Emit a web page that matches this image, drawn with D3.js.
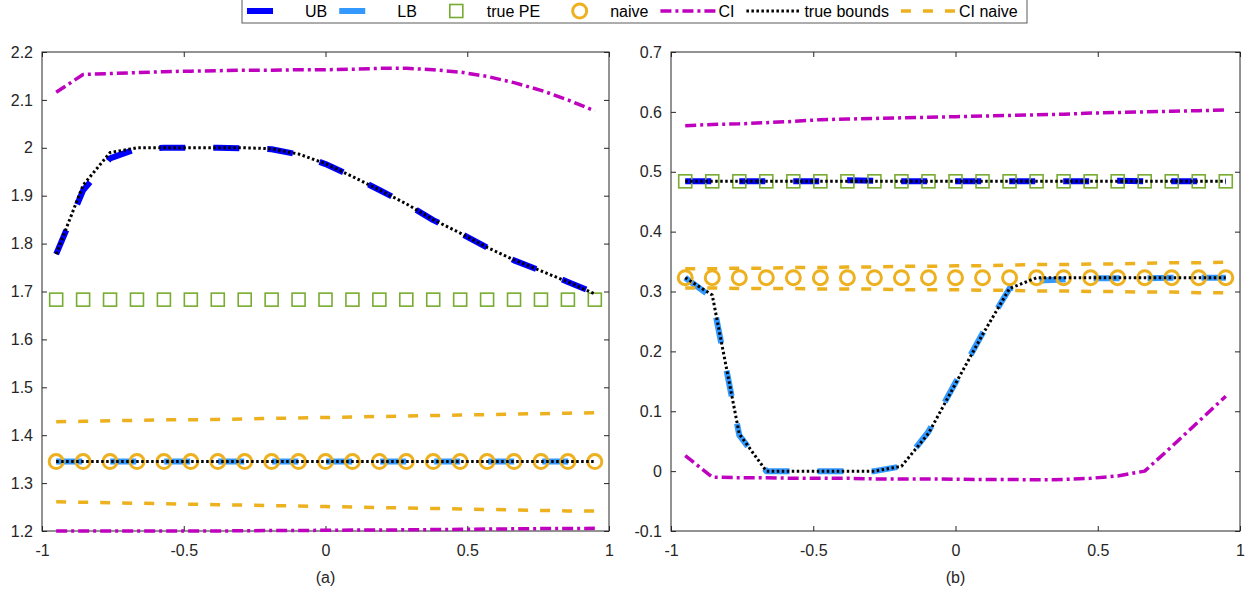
<!DOCTYPE html>
<html><head><meta charset="utf-8">
<script src="https://cdn.jsdelivr.net/npm/d3@7"></script>
<style>
html,body{margin:0;padding:0;background:#fff;}
svg{display:block;font-family:"Liberation Sans",Arial,Helvetica,sans-serif;}
</style></head>
<body><svg id="chart" width="1252" height="595"></svg>
<script>
// ---------- data ----------
const xs = [-0.95,-0.855,-0.76,-0.665,-0.57,-0.475,-0.38,-0.285,-0.19,-0.095,0,0.095,0.19,0.285,0.38,0.475,0.57,0.665,0.76,0.855,0.95];

// panel (a)
const ubA      = [1.778,1.911,1.978,1.998,2.000,2.000,2.000,1.999,1.997,1.986,1.966,1.940,1.912,1.883,1.849,1.822,1.792,1.765,1.743,1.720,1.697];
const lbA      = [1.345,1.345,1.345,1.345,1.345,1.345,1.345,1.345,1.345,1.345,1.345,1.345,1.345,1.345,1.345,1.345,1.345,1.345,1.345,1.345,1.345];
const truePEA  = [1.683,1.683,1.683,1.683,1.683,1.683,1.683,1.683,1.683,1.683,1.683,1.683,1.683,1.683,1.683,1.683,1.683,1.683,1.683,1.683,1.683];
const naiveA   = [1.345,1.345,1.345,1.345,1.345,1.345,1.345,1.345,1.345,1.345,1.345,1.345,1.345,1.345,1.345,1.345,1.345,1.345,1.345,1.345,1.345];
const ciUpA    = [2.116,2.153,2.155,2.157,2.159,2.160,2.161,2.162,2.162,2.163,2.163,2.164,2.166,2.166,2.163,2.158,2.149,2.136,2.120,2.100,2.077];
const ciLoA    = [1.200,1.200,1.200,1.200,1.200,1.200,1.200,1.2005,1.201,1.201,1.2015,1.202,1.202,1.2025,1.203,1.2035,1.204,1.2045,1.205,1.205,1.2055];
const tbUpA    = [1.778,1.922,1.990,2.000,2.000,2.000,2.000,2.000,1.998,1.987,1.967,1.940,1.912,1.883,1.850,1.822,1.792,1.766,1.743,1.720,1.695];
const tbLoA    = [1.345,1.345,1.345,1.345,1.345,1.345,1.345,1.345,1.345,1.345,1.345,1.345,1.345,1.345,1.345,1.345,1.345,1.345,1.345,1.345,1.345];
const ciNvUpA  = [1.428,1.429,1.430,1.431,1.432,1.432,1.433,1.434,1.435,1.436,1.437,1.438,1.439,1.440,1.441,1.442,1.443,1.444,1.445,1.446,1.447];
const ciNvLoA  = [1.261,1.260,1.259,1.258,1.257,1.256,1.255,1.254,1.253,1.252,1.251,1.250,1.249,1.248,1.247,1.246,1.245,1.244,1.243,1.242,1.2415];

// panel (b)
const ubB      = [0.484,0.484,0.484,0.484,0.484,0.484,0.486,0.485,0.484,0.484,0.484,0.484,0.484,0.484,0.484,0.484,0.485,0.484,0.484,0.484,0.484];
const lbB      = [0.323,0.290,0.060,0.000,0.000,0.000,0.000,0.000,0.008,0.066,0.148,0.230,0.305,0.318,0.320,0.322,0.322,0.322,0.323,0.323,0.323];
const truePEB  = [0.484,0.484,0.484,0.484,0.484,0.484,0.484,0.484,0.484,0.484,0.484,0.484,0.484,0.484,0.484,0.484,0.484,0.484,0.484,0.484,0.484];
const naiveB   = [0.323,0.323,0.323,0.323,0.323,0.323,0.323,0.323,0.323,0.323,0.323,0.323,0.323,0.323,0.323,0.323,0.323,0.323,0.323,0.323,0.323];
const ciUpB    = [0.577,0.579,0.580,0.582,0.584,0.587,0.588,0.589,0.590,0.591,0.592,0.593,0.594,0.595,0.596,0.598,0.599,0.600,0.601,0.602,0.603];
const ciLoB    = [0.026,-0.010,-0.011,-0.011,-0.012,-0.012,-0.012,-0.013,-0.013,-0.013,-0.0135,-0.014,-0.014,-0.0145,-0.014,-0.012,-0.008,0.000,0.041,0.083,0.125];
const tbUpB    = [0.484,0.484,0.484,0.484,0.484,0.484,0.484,0.484,0.484,0.484,0.484,0.484,0.484,0.484,0.484,0.484,0.484,0.484,0.484,0.484,0.484];
const tbLoB    = [0.323,0.294,0.062,0.000,0.000,0.000,0.000,0.000,0.008,0.063,0.146,0.228,0.305,0.323,0.323,0.323,0.323,0.323,0.323,0.323,0.323];
const ciNvUpB  = [0.338,0.338,0.339,0.339,0.340,0.340,0.341,0.341,0.342,0.342,0.343,0.343,0.344,0.345,0.345,0.346,0.346,0.347,0.348,0.348,0.349];
const ciNvLoB  = [0.306,0.306,0.305,0.305,0.305,0.304,0.304,0.304,0.303,0.303,0.303,0.302,0.302,0.301,0.301,0.300,0.300,0.299,0.299,0.298,0.298];

// ticks
const xTicks = [-1,-0.5,0,0.5,1];
const xTickLabels = ["-1","-0.5","0","0.5","1"];
const yTicksA = [1.2,1.3,1.4,1.5,1.6,1.7,1.8,1.9,2.0,2.1,2.2];
const yTickLabelsA = ["1.2","1.3","1.4","1.5","1.6","1.7","1.8","1.9","2","2.1","2.2"];
const yTicksB = [-0.1,0,0.1,0.2,0.3,0.4,0.5,0.6,0.7];
const yTickLabelsB = ["-0.1","0","0.1","0.2","0.3","0.4","0.5","0.6","0.7"];
const panelLabels = ["(a)","(b)"];
const legendLabels = ["UB","LB","true PE","naive","CI","true bounds","CI naive"];

// ---------- styles ----------
const ink = "#262626";
const styles = {
  UB:   {stroke:"#0000ff", width:6,   dash:"26,28"},
  LB:   {stroke:"#3399ff", width:6,   dash:"26,28"},
  CI:   {stroke:"#bf00bf", width:3.5, dash:"11,4,3,4"},
  TB:   {stroke:"#000000", width:3,   dash:"2.5,2.5"},
  CIN:  {stroke:"#edb120", width:3.5, dash:"10,12"}
};
const peColor = "#77ac30", naiveColor = "#edb120";

const svg = d3.select("#chart");

const panels = [
  {x0:42, x1:609, yDom:[1.2,2.2], yTicks:yTicksA, yLabels:yTickLabelsA, label:panelLabels[0],
   ub:ubA, lb:lbA, pe:truePEA, nv:naiveA, ciU:ciUpA, ciL:ciLoA, tbU:tbUpA, tbL:tbLoA, cnU:ciNvUpA, cnL:ciNvLoA},
  {x0:671, x1:1240, yDom:[-0.1,0.7], yTicks:yTicksB, yLabels:yTickLabelsB, label:panelLabels[1],
   ub:ubB, lb:lbB, pe:truePEB, nv:naiveB, ciU:ciUpB, ciL:ciLoB, tbU:tbUpB, tbL:tbLoB, cnU:ciNvUpB, cnL:ciNvLoB}
];
const yTop = 52, yBot = 531;

panels.forEach(p => {
  const x = d3.scaleLinear().domain([-1,1]).range([p.x0,p.x1]);
  const y = d3.scaleLinear().domain(p.yDom).range([yBot,yTop]);
  const g = svg.append("g");

  const ax = (gen, tr, labels) => {
    const a = g.append("g").attr("transform", tr).call(gen);
    a.select(".domain").remove();
    a.selectAll("line").attr("stroke", ink);
    a.selectAll("text").attr("fill", ink).style("font-size","16px").style("font-family","'Liberation Sans',Arial,sans-serif");
    if (!labels) a.selectAll("text").remove();
    return a;
  };
  ax(d3.axisBottom(x).tickValues(xTicks).tickFormat((d,i)=>xTickLabels[i]).tickSizeInner(-5).tickSizeOuter(0).tickPadding(14), `translate(0,${yBot})`, true);
  ax(d3.axisTop(x).tickValues(xTicks).tickSizeInner(-5).tickSizeOuter(0), `translate(0,${yTop})`, false);
  ax(d3.axisLeft(y).tickValues(p.yTicks).tickFormat((d,i)=>p.yLabels[i]).tickSizeInner(-5).tickSizeOuter(0).tickPadding(9), `translate(${p.x0},0)`, true);
  ax(d3.axisRight(y).tickValues(p.yTicks).tickSizeInner(-5).tickSizeOuter(0), `translate(${p.x1},0)`, false);

  g.append("rect").attr("x",p.x0).attr("y",yTop).attr("width",p.x1-p.x0).attr("height",yBot-yTop)
    .attr("fill","none").attr("stroke",ink).attr("stroke-width",1);

  const line = d3.line().x((d,i)=>x(xs[i])).y(d=>y(d));
  const drawLine = (data, st) => g.append("path").attr("d", line(data)).attr("fill","none")
      .attr("stroke", st.stroke).attr("stroke-width", st.width).attr("stroke-dasharray", st.dash)
      .attr("stroke-linejoin","round");

  drawLine(p.ub, styles.UB);
  drawLine(p.lb, styles.LB);
  g.selectAll(null).data(p.pe).enter().append("rect")
    .attr("x",(d,i)=>x(xs[i])-6.5).attr("y",d=>y(d)-6.5).attr("width",13).attr("height",13)
    .attr("fill","none").attr("stroke",peColor).attr("stroke-width",1.6);
  g.selectAll(null).data(p.nv).enter().append("circle")
    .attr("cx",(d,i)=>x(xs[i])).attr("cy",d=>y(d)).attr("r",7)
    .attr("fill","none").attr("stroke",naiveColor).attr("stroke-width",3);
  drawLine(p.ciU, styles.CI);
  drawLine(p.ciL, styles.CI);
  drawLine(p.tbU, styles.TB);
  drawLine(p.tbL, styles.TB);
  drawLine(p.cnU, styles.CIN);
  drawLine(p.cnL, styles.CIN);

  g.append("text").attr("x",(p.x0+p.x1)/2).attr("y",583).attr("text-anchor","middle")
    .attr("fill",ink).style("font-size","16px").text(p.label);
});

// ---------- legend ----------
const lg = svg.append("g");
const box = lg.append("rect").attr("x",242).attr("y",-2).attr("height",25).attr("fill","#fff")
  .attr("stroke","#5a5a5a").attr("stroke-width",1);
const kinds = ["UB","LB","PE","NV","CI","TB","CIN"];
let cx = 247;
const ly = 11;
kinds.forEach((k,i) => {
  if (k==="PE") {
    lg.append("rect").attr("x",cx+27.5-6.5).attr("y",ly-6.5).attr("width",13).attr("height",13)
      .attr("fill","none").attr("stroke",peColor).attr("stroke-width",1.6);
  } else if (k==="NV") {
    lg.append("circle").attr("cx",cx+27.5).attr("cy",ly).attr("r",7)
      .attr("fill","none").attr("stroke",naiveColor).attr("stroke-width",3);
  } else {
    const st = styles[k];
    const len = (k==="UB"||k==="LB") ? 27 : 55;
    lg.append("line").attr("x1",cx).attr("x2",cx+len).attr("y1",ly).attr("y2",ly)
      .attr("stroke",st.stroke).attr("stroke-width",st.width).attr("stroke-dasharray",st.dash);
  }
  const t = lg.append("text").attr("x",cx+58).attr("y",17).attr("fill","#000")
    .style("font-size","16px").text(legendLabels[i]);
  const w = t.node().getComputedTextLength();
  cx = cx + 58 + w + 12;
});
box.attr("width", 1027-242);
</script>
</body></html>
